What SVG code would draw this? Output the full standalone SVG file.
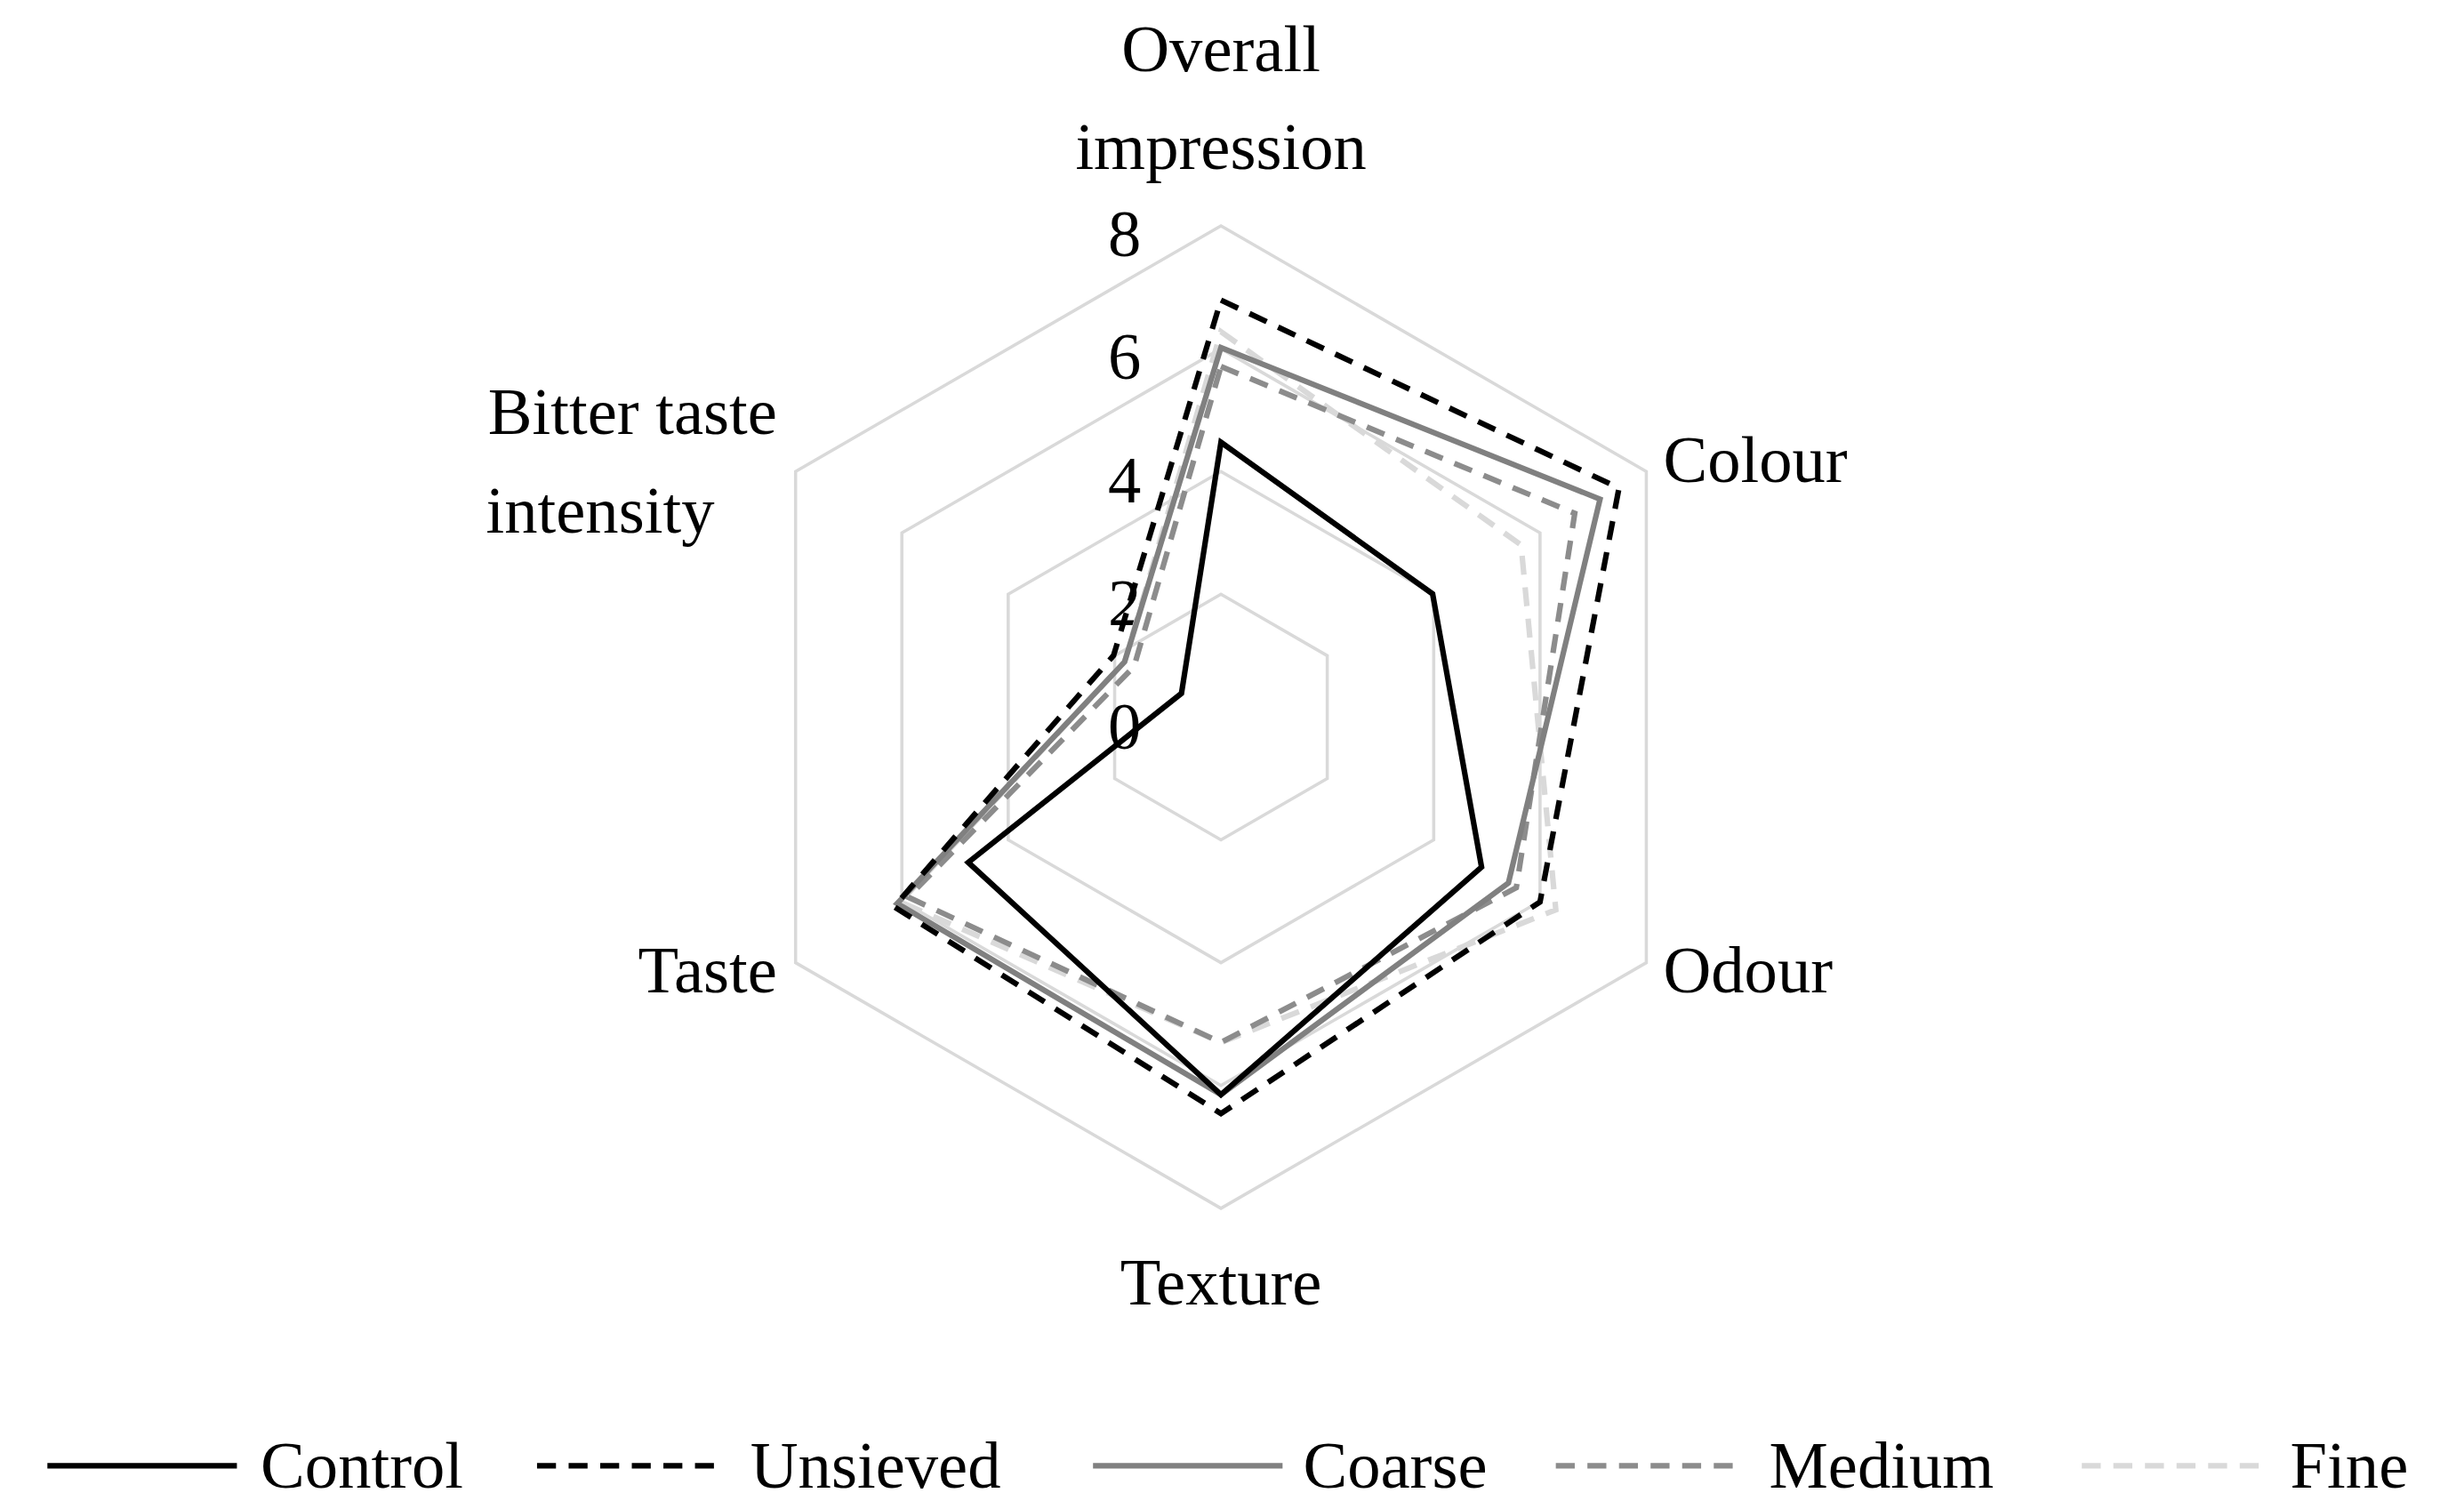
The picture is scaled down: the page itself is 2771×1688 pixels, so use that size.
<svg xmlns="http://www.w3.org/2000/svg" width="2771" height="1688" viewBox="0 0 2771 1688">
<style>
text{font-family:"Liberation Serif","DejaVu Serif",serif;font-size:42px;fill:#000}
.g{fill:none;stroke:#d9d9d9;stroke-width:2}
.s{fill:none;stroke-width:3.5;stroke-linejoin:miter}
.c{stroke:#000}
.u{stroke:#000;stroke-dasharray:12,8}
.co{stroke:#808080}
.m{stroke:#8c8c8c;stroke-dasharray:12,8}
.f{stroke:#d9d9d9;stroke-dasharray:12,8}
</style>
<rect width="2771" height="1688" fill="#fff"/>
<g transform="scale(1.7763)">
<g id="grid">
<polygon class="g" points="773,376.25 840.3,415.1 840.3,492.9 773,531.75 705.7,492.9 705.7,415.1"/>
<polygon class="g" points="773,298.5 907.7,376.25 907.7,531.75 773,609.5 638.3,531.75 638.3,376.25"/>
<polygon class="g" points="773,220.75 975,337.4 975,570.6 773,687.25 571,570.6 571,337.4"/>
<polygon class="g" points="773,143 1042.3,298.5 1042.3,609.5 773,765 503.7,609.5 503.7,298.5"/>
</g>
<g id="ticks" text-anchor="middle">
<text x="712" y="162">8</text><text x="712" y="240">6</text><text x="712" y="318">4</text><text x="712" y="396">2</text><text x="712" y="474">0</text>
</g>
<g id="series">
<polygon class="s f" points="773,210 963,345 985,576 773,660 570,571 712,419"/>
<polygon class="s m" points="773,232 997,325 960,562 773,660 575,568 718,422"/>
<polygon class="s co" points="773,220 1013,316 955,559 773,693 568,572 712,419"/>
<polygon class="s u" points="773,190 1025,309 975,571 773,705 566,574 705,415"/>
<polygon class="s c" points="773,280 907,376 938,549 773,693 613,546 748,439"/>
</g>
<g id="labels">
<text x="773" y="45" text-anchor="middle">Overall</text>
<text x="773" y="107" text-anchor="middle">impression</text>
<text x="1053" y="305">Colour</text>
<text x="1053" y="628">Odour</text>
<text x="773" y="826" text-anchor="middle">Texture</text>
<text x="492" y="628" text-anchor="end">Taste</text>
<text x="492" y="275" text-anchor="end">Bitter taste</text>
<text x="380" y="337" text-anchor="middle">intensity</text>
</g>
<g id="legend">
<line class="s c" x1="30" y1="928" x2="150" y2="928"/><text x="165" y="942">Control</text>
<line class="s u" x1="340" y1="928" x2="460" y2="928"/><text x="475" y="942">Unsieved</text>
<line class="s co" x1="692" y1="928" x2="812" y2="928"/><text x="825" y="942">Coarse</text>
<line class="s m" x1="985" y1="928" x2="1105" y2="928"/><text x="1120" y="942">Medium</text>
<line class="s f" x1="1318" y1="928" x2="1438" y2="928"/><text x="1450" y="942">Fine</text>
</g>
</g>
</svg>
